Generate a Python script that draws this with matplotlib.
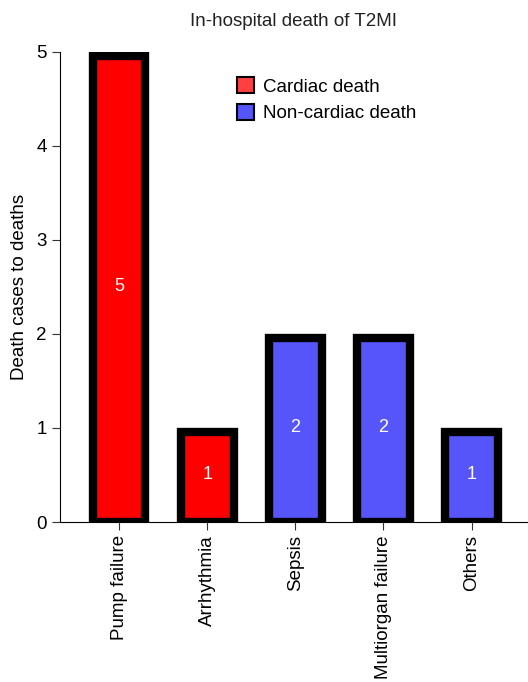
import matplotlib.pyplot as plt
from matplotlib.patches import Patch

plt.rcParams['font.family'] = ['Liberation Sans', 'DejaVu Sans']

causes = ["Pump failure", "Arrhythmia", "Sepsis", "Multiorgan failure", "Others"]
deaths = [5, 1, 2, 2, 1]
groups = ["Cardiac", "Cardiac", "Non-cardiac", "Non-cardiac", "Non-cardiac"]
colors = {"Cardiac": "#ff0000", "Non-cardiac": "#5555fa"}

fig = plt.figure(figsize=(5.28, 6.82), dpi=100)
ax = fig.add_axes([0.1136, 0.2346, 0.8864, 0.6892])

x = range(len(causes))
bars = ax.bar(x, [d - 0.04 for d in deaths], width=0.6,
              color=[colors[g] for g in groups],
              edgecolor="black", linewidth=6)
for xi, d in zip(x, deaths):
    ax.text(xi, d / 2, str(d), ha="center", va="center", color="white", fontsize=13)

ax.set_xlim(-0.67, 4.64)
ax.set_ylim(0, 5)
ax.set_yticks(range(6))
ax.set_xticks(list(x))
ax.set_xticklabels(causes, rotation=90, fontsize=13.5)
ax.tick_params(axis="y", labelsize=13.5, length=6, color="#333333")
ax.tick_params(axis="x", length=6, color="#333333")
ax.spines["top"].set_visible(False)
ax.spines["right"].set_visible(False)
ax.set_ylabel("Death cases to deaths", fontsize=13.5, labelpad=6)
ax.set_title("In-hospital death of T2MI", fontsize=13.5, color="#222222", pad=19)

handles = [Patch(facecolor="#ff4040", edgecolor="black", linewidth=1.5, label="Cardiac death"),
           Patch(facecolor="#5555fa", edgecolor="black", linewidth=1.5, label="Non-cardiac death")]
ax.legend(handles=handles, loc="upper left", bbox_to_anchor=(0.342, 0.982), frameon=False,
          fontsize=13.5, handlelength=0.9, handleheight=0.9, handletextpad=0.5, labelspacing=0.45)

fig.savefig("out.png", dpi=100)
